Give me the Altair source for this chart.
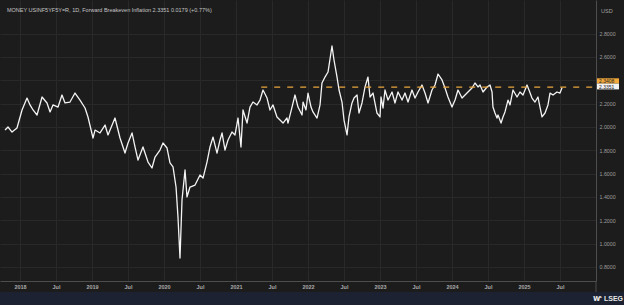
import altair as alt
import pandas as pd

# ---- series (decimal year, value) ----
years_2018 = [2017.792, 2017.833, 2017.889, 2017.958, 2018.028, 2018.097, 2018.139, 2018.181, 2018.236, 2018.306,
              2018.375, 2018.417, 2018.458, 2018.528, 2018.583, 2018.625, 2018.694, 2018.764, 2018.833, 2018.903,
              2018.944, 2019.014, 2019.042, 2019.111, 2019.181, 2019.222, 2019.319, 2019.389, 2019.458, 2019.5,
              2019.556, 2019.597, 2019.639, 2019.708, 2019.778, 2019.833, 2019.875, 2019.944]
values_2018 = [1.973, 1.999, 1.956, 1.991, 2.145, 2.247, 2.188, 2.145, 2.102, 2.256,
               2.205, 2.128, 2.188, 2.170, 2.273, 2.205, 2.213, 2.290, 2.230, 2.162,
               2.085, 1.905, 1.973, 1.948, 2.016, 1.931, 2.076, 1.905, 1.776, 1.862,
               1.948, 1.828, 1.716, 1.828, 1.699, 1.648, 1.742, 1.802]

years_2020 = [2019.986, 2020.042, 2020.083, 2020.125, 2020.167, 2020.194, 2020.222, 2020.25, 2020.292, 2020.319,
              2020.361, 2020.431, 2020.5, 2020.542, 2020.597, 2020.639, 2020.681, 2020.736, 2020.778, 2020.806,
              2020.847, 2020.889, 2020.944, 2020.986, 2021.028, 2021.069, 2021.097, 2021.153, 2021.194, 2021.236,
              2021.292, 2021.333, 2021.375, 2021.431, 2021.472, 2021.514, 2021.569, 2021.611, 2021.653, 2021.708]
values_2020 = [1.862, 1.819, 1.691, 1.657, 1.485, 1.228, 0.877, 1.374, 1.631, 1.400,
               1.485, 1.502, 1.588, 1.562, 1.699, 1.828, 1.913, 1.776, 1.888, 1.948,
               1.802, 1.888, 1.956, 1.931, 2.076, 1.828, 2.145, 2.033, 2.170, 2.213,
               2.188, 2.230, 2.316, 2.247, 2.145, 2.188, 2.085, 2.059, 2.033, 2.076]

years_2022 = [2021.722, 2021.778, 2021.819, 2021.861, 2021.917, 2021.931, 2021.972, 2022.0, 2022.042, 2022.069,
              2022.125, 2022.167, 2022.194, 2022.236, 2022.278, 2022.333, 2022.361, 2022.403, 2022.431, 2022.472,
              2022.5, 2022.542, 2022.569, 2022.611, 2022.639, 2022.681, 2022.708, 2022.75, 2022.792, 2022.833,
              2022.861, 2022.903, 2022.958, 2023.0]
values_2022 = [2.033, 2.170, 2.273, 2.170, 2.102, 2.213, 2.145, 2.290, 2.170, 2.128,
               2.076, 2.188, 2.376, 2.427, 2.470, 2.693, 2.573, 2.427, 2.316, 2.213,
               2.059, 1.931, 2.085, 2.205, 2.247, 2.273, 2.119, 2.205, 2.342, 2.427,
               2.256, 2.290, 2.119, 2.085]

years_2023 = [2023.014, 2023.042, 2023.069, 2023.111, 2023.167, 2023.208, 2023.25, 2023.306, 2023.347, 2023.389,
              2023.444, 2023.486, 2023.528, 2023.583, 2023.625, 2023.667, 2023.722, 2023.764, 2023.806, 2023.861,
              2023.903, 2023.944, 2024.0, 2024.042, 2024.083, 2024.139, 2024.181, 2024.222]
values_2023 = [2.256, 2.162, 2.316, 2.230, 2.299, 2.205, 2.299, 2.230, 2.290, 2.213,
               2.316, 2.247, 2.299, 2.359, 2.290, 2.205, 2.316, 2.359, 2.453, 2.402,
               2.333, 2.256, 2.170, 2.230, 2.316, 2.247, 2.273, 2.299]

years_2024 = [2024.278, 2024.319, 2024.361, 2024.389, 2024.431, 2024.486, 2024.528, 2024.556, 2024.569, 2024.597,
              2024.625, 2024.639, 2024.681, 2024.708, 2024.736, 2024.778, 2024.806, 2024.847, 2024.903, 2024.944,
              2024.986, 2025.042, 2025.069, 2025.111, 2025.153, 2025.194, 2025.222, 2025.25, 2025.292, 2025.333,
              2025.361, 2025.403, 2025.458, 2025.5, 2025.528]
values_2024 = [2.333, 2.376, 2.342, 2.359, 2.299, 2.342, 2.359, 2.299, 2.170, 2.119,
               2.076, 2.102, 2.033, 2.085, 2.128, 2.230, 2.188, 2.316, 2.256, 2.299,
               2.273, 2.359, 2.316, 2.247, 2.213, 2.256, 2.170, 2.085, 2.119, 2.188,
               2.290, 2.273, 2.299, 2.290, 2.335]

Y_TICKS = [0.8, 1.0, 1.2, 1.4, 1.6, 1.8, 2.0, 2.2, 2.4, 2.6, 2.8]
X_TICKS = [2018, 2018.5, 2019, 2019.5, 2020, 2020.5, 2021, 2021.5, 2022, 2022.5,
           2023, 2023.5, 2024, 2024.5, 2025, 2025.5]
X_DOMAIN = [2017.722, 2026.0]
Y_DOMAIN = [0.680, 3.087]

ref_level = 2.3408
ref_start = 2021.35
last_value = 2.3351
header = "MONEY USINF5YF5Y=R, 1D, Forward Breakeven Inflation  2.3351  0.0179 (+0.77%)"

years = years_2018 + years_2020 + years_2022 + years_2023 + years_2024
values = values_2018 + values_2020 + values_2022 + values_2023 + values_2024
df = pd.DataFrame({"year": years, "value": values})

FONT = "Liberation Sans"
BG = "#1c1c1c"
GRID = "#292929"

x_scale = alt.Scale(domain=X_DOMAIN, nice=False, zero=False)
y_scale = alt.Scale(domain=Y_DOMAIN, nice=False, zero=False)

x_axis = alt.Axis(values=X_TICKS,
                  labelExpr="datum.value % 1 == 0 ? format(datum.value, 'd') : 'Jul'",
                  grid=True, gridColor=GRID, gridWidth=1,
                  domain=True, domainColor="#4d4d4d", ticks=False, tickSize=0,
                  labelFontSize=5.5, labelColor="#a8a8a8", labelFontWeight="bold", labelFont=FONT,
                  labelPadding=3, labelFlush=False, labelOverlap=False, title=None)
y_axis = alt.Axis(orient="right", values=Y_TICKS, format=".4f",
                  grid=True, gridColor=GRID, gridWidth=1,
                  domain=True, domainColor="#4d4d4d", ticks=False, tickSize=0,
                  labelFontSize=5.3, labelColor="#9c9c9c", labelFont=FONT,
                  labelPadding=3, labelFlush=False, labelOverlap=False, title=None)

X = alt.X("year:Q", scale=x_scale, axis=x_axis)
Y = alt.Y("value:Q", scale=y_scale, axis=y_axis)

line = alt.Chart(df).mark_line(color="#f4f4f4", strokeWidth=1.3, strokeJoin="round").encode(x=X, y=Y)

rule_df = pd.DataFrame({"year": [ref_start], "year_end": [X_DOMAIN[1]], "value": [ref_level]})
ref_rule = alt.Chart(rule_df).mark_rule(color="#e9a53c", strokeDash=[6, 7], strokeWidth=1.3).encode(
    x=X, x2="year_end:Q", y=Y)

one = pd.DataFrame({"a": [0]})

# bottom navy strip and LSEG mark
strip = alt.Chart(one).mark_rect(color="#1c2232").encode(
    x=alt.value(0), x2=alt.value(624), y=alt.value(292), y2=alt.value(305))
vline_ext = alt.Chart(one).mark_rule(color="#4d4d4d").encode(
    x=alt.value(596), y=alt.value(281), y2=alt.value(292))
lseg = alt.Chart(one).mark_text(text="LSEG", font=FONT, fontSize=7, fontWeight="bold",
                                color="#e8e8e8", align="left", baseline="middle").encode(
    x=alt.value(604), y=alt.value(299))
logo = alt.Chart(one).mark_text(text="ⱳ", font="DejaVu Sans", fontSize=8, fontWeight="bold",
                                color="#e8e8e8", align="left", baseline="middle").encode(
    x=alt.value(593), y=alt.value(299))

# header text and currency
title = alt.Chart(one).mark_text(text=header, font=FONT, fontSize=5.5, color="#c4c4c4",
                                 align="left", baseline="middle").encode(x=alt.value(7), y=alt.value(10))
usd = alt.Chart(one).mark_text(text="USD", font=FONT, fontSize=5.5, color="#a0a0a0",
                               align="left", baseline="middle").encode(x=alt.value(601), y=alt.value(11))

# price tags on the right
orange_box = alt.Chart(one).mark_rect(color="#f2a93b").encode(
    x=alt.value(597), x2=alt.value(619), y=alt.value(78.3), y2=alt.value(83.6))
white_box = alt.Chart(one).mark_rect(color="#f2f2f2").encode(
    x=alt.value(597), x2=alt.value(619), y=alt.value(83.6), y2=alt.value(89.4))
orange_txt = alt.Chart(one).mark_text(text=f"{ref_level:.4f}", font=FONT, fontSize=5, color="#222222",
                                      align="left", baseline="middle").encode(x=alt.value(599), y=alt.value(81))
white_txt = alt.Chart(one).mark_text(text=f"{last_value:.4f}", font=FONT, fontSize=5, color="#222222",
                                     align="left", baseline="middle").encode(x=alt.value(599), y=alt.value(86.6))

chart = alt.layer(
    line, ref_rule, strip, vline_ext, lseg, logo, title, usd,
    orange_box, white_box, orange_txt, white_txt
).properties(
    width=596, height=281,
    padding={"left": 0, "top": 0, "right": 28, "bottom": 24},
    autosize=alt.AutoSizeParams(type="none"),
    background=BG,
).configure_view(stroke=None, fill=BG)

chart.save("out.html", embed_options={"renderer": "svg", "actions": False})
